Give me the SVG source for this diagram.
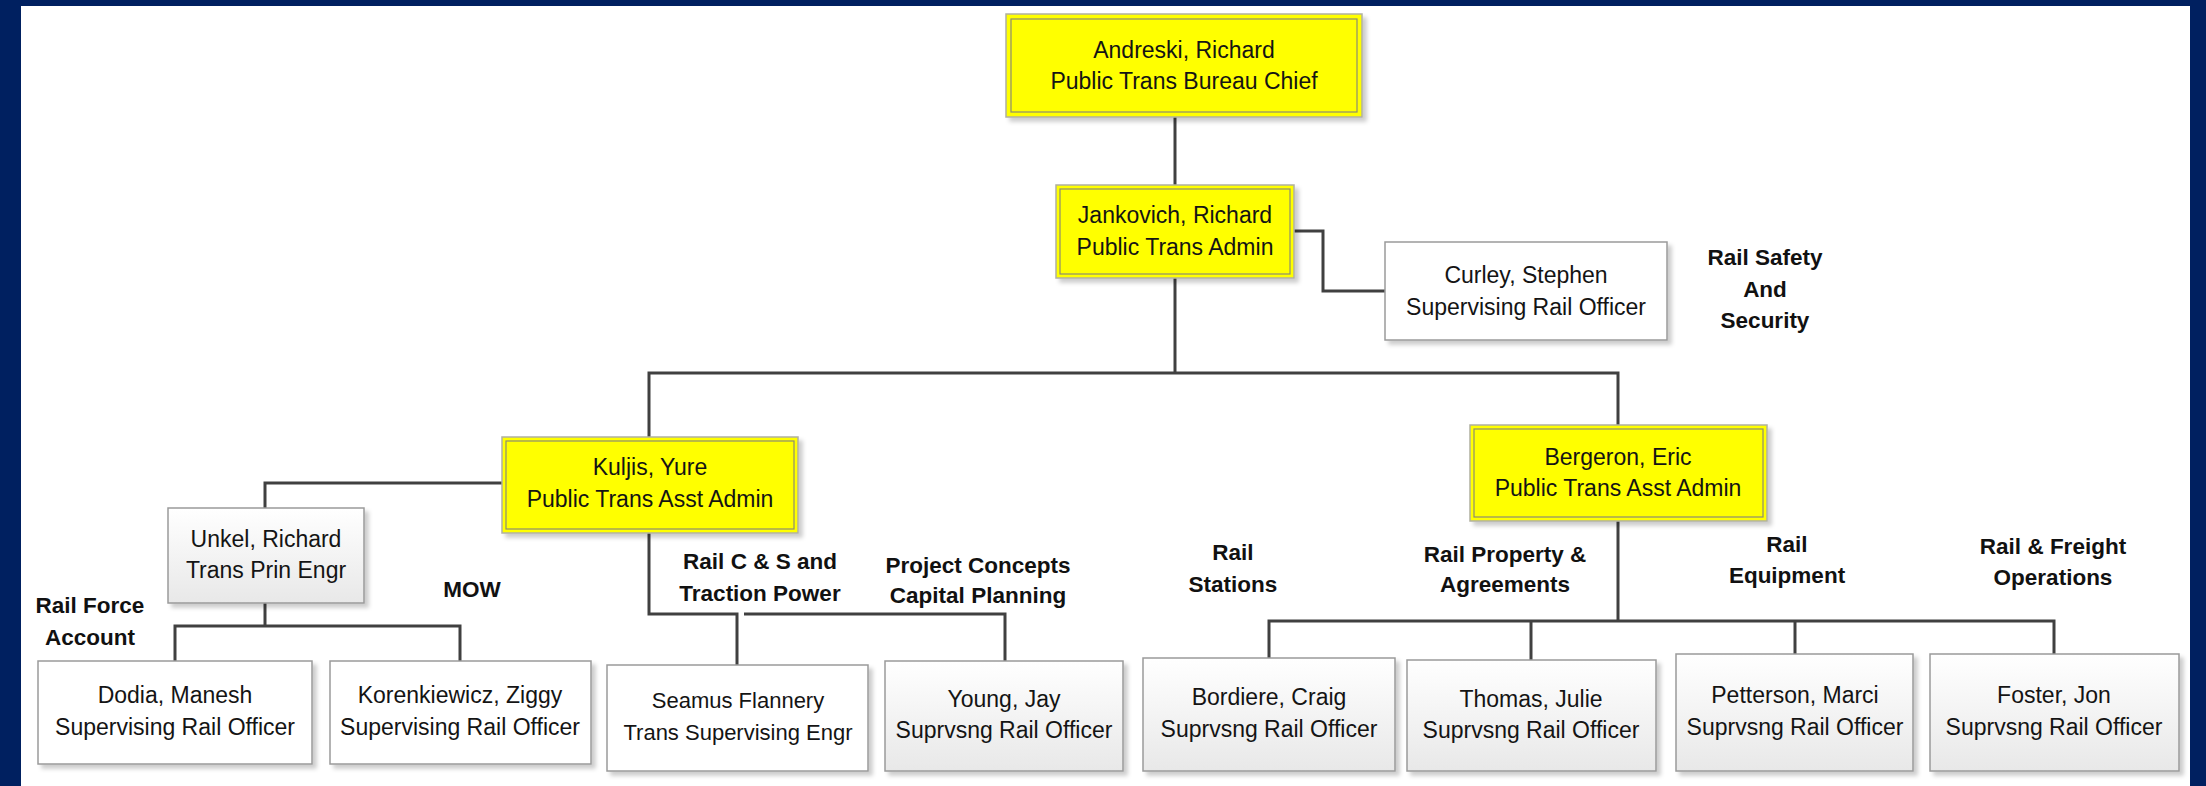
<svg xmlns="http://www.w3.org/2000/svg" width="2206" height="786" viewBox="0 0 2206 786">
<defs>
<style>
.box{fill:#ffffff;stroke:#9a9a9a;stroke-width:1.5;filter:url(#sh)}
.grad{fill:url(#gg);stroke:#9a9a9a;stroke-width:1.5;filter:url(#sh)}
.yel{fill:#ffff00;stroke:#b0b0a0;stroke-width:1.5;filter:url(#sh)}
.yin{fill:none;stroke:#8c8c70;stroke-width:1.2}
.t{font-family:"Liberation Sans",Arial,sans-serif;font-size:23px;fill:#141414;text-anchor:middle}
.ts{font-size:22px}
.lb{font-family:"Liberation Sans",Arial,sans-serif;font-size:22.5px;font-weight:bold;fill:#111;text-anchor:middle}
.c{fill:none;stroke:#404040;stroke-width:3}
</style>
<linearGradient id="gg" x1="0" y1="0" x2="0" y2="1">
<stop offset="0" stop-color="#ffffff"/>
<stop offset="1" stop-color="#e8e8e8"/>
</linearGradient>
<filter id="sh" x="-10%" y="-10%" width="130%" height="130%">
<feDropShadow dx="4" dy="4" stdDeviation="2" flood-color="#000" flood-opacity="0.2"/>
</filter>
</defs>
<rect x="0" y="0" width="2206" height="786" fill="#002060"/>
<rect x="21" y="6" width="2169" height="780" fill="#ffffff"/>

<g id="connectors">
<path class="c" d="M1175,117 V185"/>
<path class="c" d="M1294,231 H1323 V291 H1385"/>
<path class="c" d="M1175,278 V373"/>
<path class="c" d="M649,437 V373 H1618 V425"/>
<path class="c" d="M502,483 H265 V508"/>
<path class="c" d="M265,603 V626"/>
<path class="c" d="M175,661 V626 H460 V661"/>
<path class="c" d="M649,533 V614 H737 V665"/>
<path class="c" d="M744,614 H1005 V661"/>
<path class="c" d="M1618,521 V621"/>
<path class="c" d="M1269,658 V621 H2054 V654"/>
<path class="c" d="M1531,621 V660"/>
<path class="c" d="M1795,621 V654"/>
</g>

<g id="andreski">
<rect class="yel" x="1006" y="14" width="356" height="103"/>
<rect class="yin" x="1011" y="19" width="346" height="93"/>
<text class="t" x="1184" y="58">Andreski, Richard</text>
<text class="t" x="1184" y="89">Public Trans Bureau Chief</text>
</g>
<g id="jankovich">
<rect class="yel" x="1056" y="185" width="238" height="93"/>
<rect class="yin" x="1060" y="189" width="230" height="85"/>
<text class="t" x="1175" y="223">Jankovich, Richard</text>
<text class="t" x="1175" y="255">Public Trans Admin</text>
</g>
<g id="curley">
<rect class="box" x="1385" y="242" width="282" height="98"/>
<text class="t" x="1526" y="283">Curley, Stephen</text>
<text class="t" x="1526" y="315">Supervising Rail Officer</text>
</g>
<g id="kuljis">
<rect class="yel" x="502" y="437" width="296" height="96"/>
<rect class="yin" x="506" y="441" width="288" height="88"/>
<text class="t" x="650" y="475">Kuljis, Yure</text>
<text class="t" x="650" y="507">Public Trans Asst Admin</text>
</g>
<g id="bergeron">
<rect class="yel" x="1470" y="425" width="297" height="96"/>
<rect class="yin" x="1474" y="429" width="289" height="88"/>
<text class="t" x="1618" y="465">Bergeron, Eric</text>
<text class="t" x="1618" y="496">Public Trans Asst Admin</text>
</g>
<g id="unkel">
<rect class="grad" x="168" y="508" width="196" height="95"/>
<text class="t" x="266" y="547">Unkel, Richard</text>
<text class="t" x="266" y="578">Trans Prin Engr</text>
</g>
<g id="dodia">
<rect class="box" x="38" y="661" width="274" height="103"/>
<text class="t" x="175" y="703">Dodia, Manesh</text>
<text class="t" x="175" y="735">Supervising Rail Officer</text>
</g>
<g id="korenkiewicz">
<rect class="box" x="330" y="661" width="261" height="103"/>
<text class="t" x="460" y="703">Korenkiewicz, Ziggy</text>
<text class="t" x="460" y="735">Supervising Rail Officer</text>
</g>
<g id="seamus">
<rect class="box" x="607" y="665" width="261" height="106"/>
<text class="t ts" x="738" y="708">Seamus Flannery</text>
<text class="t ts" x="738" y="740">Trans Supervising Engr</text>
</g>
<g id="young">
<rect class="grad" x="885" y="661" width="238" height="110"/>
<text class="t" x="1004" y="707">Young, Jay</text>
<text class="t" x="1004" y="738">Suprvsng Rail Officer</text>
</g>
<g id="bordiere">
<rect class="grad" x="1143" y="658" width="252" height="113"/>
<text class="t" x="1269" y="705">Bordiere, Craig</text>
<text class="t" x="1269" y="737">Suprvsng Rail Officer</text>
</g>
<g id="thomas">
<rect class="grad" x="1407" y="660" width="249" height="111"/>
<text class="t" x="1531" y="707">Thomas, Julie</text>
<text class="t" x="1531" y="738">Suprvsng Rail Officer</text>
</g>
<g id="petterson">
<rect class="grad" x="1676" y="654" width="237" height="117"/>
<text class="t" x="1795" y="703">Petterson, Marci</text>
<text class="t" x="1795" y="735">Suprvsng Rail Officer</text>
</g>
<g id="foster">
<rect class="grad" x="1930" y="654" width="249" height="117"/>
<text class="t" x="2054" y="703">Foster, Jon</text>
<text class="t" x="2054" y="735">Suprvsng Rail Officer</text>
</g>

<g id="labels">
<text class="lb" x="1765" y="265">Rail Safety</text>
<text class="lb" x="1765" y="297">And</text>
<text class="lb" x="1765" y="328">Security</text>
<text class="lb" x="90" y="613">Rail Force</text>
<text class="lb" x="90" y="645">Account</text>
<text class="lb" x="472" y="597">MOW</text>
<text class="lb" x="760" y="569">Rail C &amp; S and</text>
<text class="lb" x="760" y="601">Traction Power</text>
<text class="lb" x="978" y="573">Project Concepts</text>
<text class="lb" x="978" y="603">Capital Planning</text>
<text class="lb" x="1233" y="560">Rail</text>
<text class="lb" x="1233" y="592">Stations</text>
<text class="lb" x="1505" y="562">Rail Property &amp;</text>
<text class="lb" x="1505" y="592">Agreements</text>
<text class="lb" x="1787" y="552">Rail</text>
<text class="lb" x="1787" y="583">Equipment</text>
<text class="lb" x="2053" y="554">Rail &amp; Freight</text>
<text class="lb" x="2053" y="585">Operations</text>
</g>
</svg>
